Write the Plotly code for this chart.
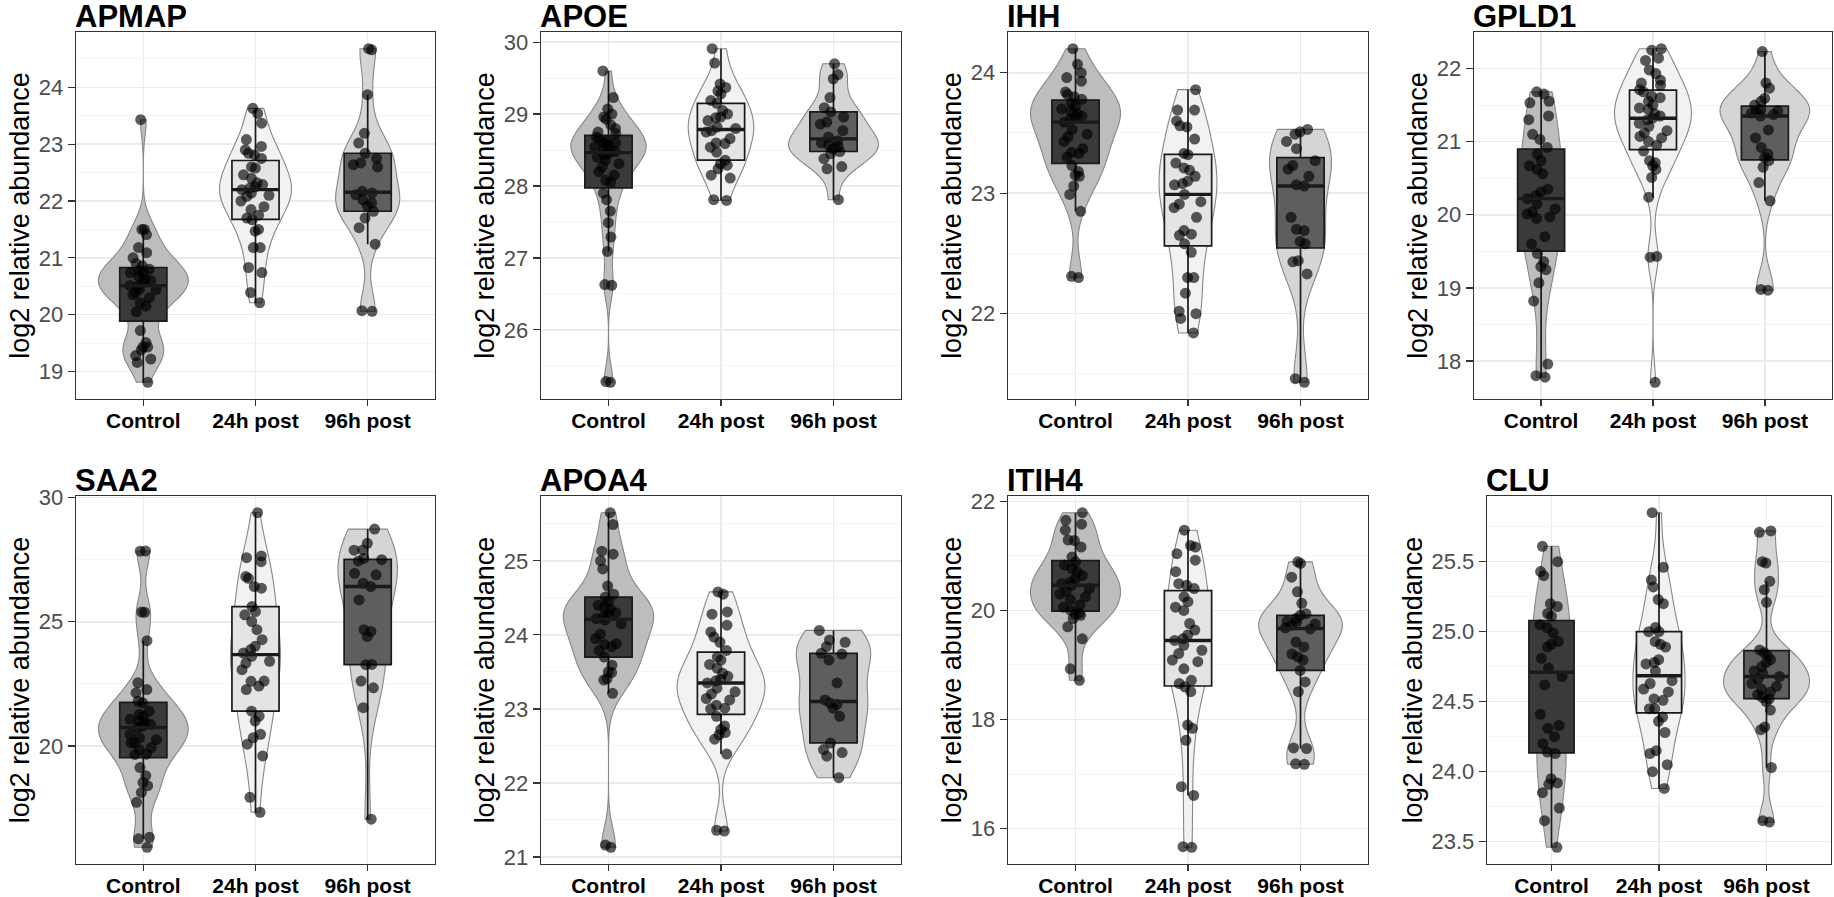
import numpy as np
import plotly.graph_objects as go

# ---------------- data ----------------
groups = ["Control", "24h post", "96h post"]
proteins = ["APMAP", "APOE", "IHH", "GPLD1", "SAA2", "APOA4", "ITIH4", "CLU"]

APMAP_control = [23.43, 21.5, 21.5, 21.41, 21.18, 21.09, 21.0, 20.9, 20.86, 20.8, 20.78, 20.74, 20.74, 20.68, 20.62, 20.6, 20.57, 20.51, 20.51, 20.45, 20.44, 20.39, 20.35, 20.3, 20.21, 20.15, 20.05, 19.72, 19.51, 19.43, 19.43, 19.38, 19.28, 19.22, 19.16, 18.81]
APMAP_24h = [23.63, 23.54, 23.37, 23.08, 22.96, 22.9, 22.84, 22.81, 22.75, 22.6, 22.58, 22.46, 22.4, 22.32, 22.29, 22.25, 22.23, 22.2, 22.14, 22.1, 22.08, 22.0, 21.9, 21.85, 21.75, 21.7, 21.67, 21.5, 21.47, 21.18, 21.18, 20.83, 20.74, 20.39, 20.21]
APMAP_96h = [24.68, 24.66, 23.87, 23.19, 23.02, 22.84, 22.75, 22.67, 22.64, 22.6, 22.17, 22.14, 22.11, 22.02, 21.97, 21.91, 21.82, 21.7, 21.53, 21.24, 20.07, 20.06]

APOE_control = [29.6, 29.23, 29.07, 29.0, 28.96, 28.93, 28.85, 28.8, 28.75, 28.73, 28.68, 28.65, 28.63, 28.6, 28.59, 28.57, 28.54, 28.52, 28.5, 28.48, 28.45, 28.43, 28.4, 28.36, 28.31, 28.27, 28.2, 28.15, 28.08, 28.05, 27.9, 27.81, 27.65, 27.49, 27.29, 27.09, 26.63, 26.62, 25.28, 25.27]
APOE_24h = [29.91, 29.71, 29.42, 29.37, 29.32, 29.28, 29.19, 29.15, 29.05, 29.0, 28.96, 28.95, 28.91, 28.82, 28.8, 28.77, 28.75, 28.66, 28.6, 28.59, 28.54, 28.47, 28.36, 28.31, 28.29, 28.24, 28.15, 28.11, 27.81, 27.8]
APOE_96h = [29.7, 29.55, 29.49, 29.23, 29.09, 29.03, 28.96, 28.89, 28.86, 28.77, 28.68, 28.63, 28.6, 28.57, 28.55, 28.52, 28.48, 28.45, 28.38, 28.27, 28.24, 27.81]

IHH_control = [24.2, 24.07, 24.0, 23.96, 23.93, 23.84, 23.82, 23.8, 23.78, 23.75, 23.72, 23.7, 23.68, 23.66, 23.64, 23.63, 23.62, 23.59, 23.53, 23.49, 23.47, 23.43, 23.37, 23.34, 23.33, 23.3, 23.23, 23.18, 23.15, 23.14, 23.06, 22.99, 22.85, 22.31, 22.3]
IHH_24h = [23.86, 23.69, 23.69, 23.6, 23.56, 23.55, 23.45, 23.33, 23.32, 23.25, 23.21, 23.19, 23.14, 23.1, 23.08, 23.07, 22.99, 22.93, 22.91, 22.88, 22.8, 22.69, 22.66, 22.65, 22.58, 22.51, 22.3, 22.3, 22.17, 22.02, 22.0, 21.96, 21.84]
IHH_96h = [23.53, 23.51, 23.49, 23.43, 23.37, 23.27, 23.23, 23.2, 23.14, 23.07, 23.06, 22.8, 22.7, 22.69, 22.6, 22.58, 22.44, 22.43, 22.33, 21.46, 21.43]

GPLD1_control = [21.68, 21.65, 21.55, 21.53, 21.35, 21.3, 21.1, 21.03, 20.92, 20.83, 20.74, 20.67, 20.62, 20.56, 20.35, 20.31, 20.26, 20.22, 20.15, 20.08, 20.04, 20.01, 19.97, 19.95, 19.7, 19.6, 19.47, 19.36, 19.29, 19.25, 19.07, 18.82, 17.96, 17.8, 17.78]
GPLD1_24h = [22.27, 22.25, 22.14, 22.11, 21.98, 21.93, 21.84, 21.8, 21.77, 21.71, 21.68, 21.62, 21.6, 21.55, 21.5, 21.46, 21.44, 21.38, 21.35, 21.32, 21.3, 21.25, 21.21, 21.15, 21.12, 21.07, 21.05, 21.0, 20.95, 20.87, 20.74, 20.71, 20.67, 20.62, 20.51, 20.24, 19.43, 19.42, 17.71]
GPLD1_96h = [22.23, 21.8, 21.73, 21.59, 21.55, 21.5, 21.44, 21.42, 21.4, 21.39, 21.37, 21.35, 21.16, 21.05, 20.92, 20.83, 20.78, 20.74, 20.65, 20.44, 20.19, 18.98, 18.97]

SAA2_control = [27.85, 27.84, 25.39, 25.38, 24.24, 22.54, 22.27, 22.14, 21.8, 21.74, 21.4, 21.27, 21.2, 21.07, 21.0, 20.95, 20.87, 20.8, 20.74, 20.47, 20.33, 20.25, 20.13, 20.12, 19.93, 19.85, 19.67, 19.66, 19.13, 18.8, 18.53, 18.4, 18.13, 17.73, 16.32, 16.26, 15.92]
SAA2_24h = [29.39, 27.65, 27.58, 27.42, 26.82, 26.75, 26.42, 26.35, 25.61, 25.41, 25.28, 25.01, 24.68, 24.28, 24.01, 23.88, 23.74, 23.61, 23.41, 23.34, 23.07, 22.61, 22.6, 22.41, 22.27, 21.4, 21.2, 21.0, 20.47, 20.33, 20.07, 19.6, 17.93, 17.33]
SAA2_96h = [28.73, 28.16, 27.89, 27.88, 27.55, 27.5, 27.45, 26.95, 26.89, 26.55, 26.42, 25.88, 24.68, 24.61, 24.41, 23.28, 23.27, 22.61, 22.34, 21.54, 17.05]

APOA4_control = [25.65, 25.49, 25.13, 25.09, 25.0, 24.89, 24.66, 24.55, 24.51, 24.45, 24.4, 24.37, 24.35, 24.3, 24.28, 24.25, 24.22, 24.2, 24.15, 24.01, 23.95, 23.88, 23.87, 23.84, 23.79, 23.7, 23.59, 23.5, 23.49, 23.41, 23.39, 23.21, 21.16, 21.13]
APOA4_24h = [24.58, 24.55, 24.31, 24.28, 24.13, 24.04, 23.97, 23.9, 23.79, 23.7, 23.66, 23.6, 23.55, 23.48, 23.44, 23.4, 23.38, 23.35, 23.28, 23.23, 23.2, 23.14, 23.12, 23.05, 23.01, 23.0, 22.9, 22.77, 22.72, 22.68, 22.65, 22.59, 22.39, 21.36, 21.35]
APOA4_96h = [24.06, 23.93, 23.9, 23.84, 23.75, 23.74, 23.66, 23.35, 23.12, 23.08, 23.06, 23.01, 22.9, 22.54, 22.45, 22.41, 22.36, 22.07]

ITIH4_control = [21.79, 21.65, 21.58, 21.47, 21.29, 21.28, 21.16, 20.98, 20.89, 20.83, 20.77, 20.71, 20.64, 20.58, 20.52, 20.49, 20.46, 20.4, 20.35, 20.3, 20.25, 20.2, 20.1, 20.06, 20.0, 19.95, 19.93, 19.91, 19.85, 19.7, 19.48, 18.93, 18.72]
ITIH4_24h = [21.47, 21.19, 21.16, 21.04, 20.92, 20.71, 20.49, 20.46, 20.4, 20.25, 20.16, 20.06, 20.0, 19.76, 19.64, 19.55, 19.48, 19.45, 19.36, 19.27, 19.21, 19.09, 19.06, 18.93, 18.72, 18.66, 18.6, 18.51, 17.9, 17.84, 17.62, 16.77, 16.61, 15.67, 15.66]
ITIH4_96h = [20.89, 20.86, 20.61, 20.34, 20.13, 19.94, 19.91, 19.85, 19.8, 19.79, 19.75, 19.73, 19.68, 19.66, 19.42, 19.33, 19.2, 19.15, 19.09, 18.9, 18.69, 18.51, 17.48, 17.47, 17.19, 17.18]

CLU_control = [25.61, 25.5, 25.43, 25.4, 25.2, 25.18, 25.13, 25.11, 25.05, 25.03, 24.99, 24.93, 24.91, 24.89, 24.81, 24.74, 24.68, 24.62, 24.41, 24.33, 24.31, 24.25, 24.2, 24.14, 24.13, 23.95, 23.92, 23.91, 23.85, 23.74, 23.65, 23.46]
CLU_24h = [25.85, 25.46, 25.37, 25.32, 25.23, 25.2, 25.03, 25.0, 25.0, 24.93, 24.91, 24.89, 24.8, 24.78, 24.77, 24.72, 24.65, 24.63, 24.59, 24.57, 24.52, 24.51, 24.45, 24.45, 24.39, 24.36, 24.28, 24.15, 24.13, 24.05, 24.0, 23.88]
CLU_96h = [25.72, 25.71, 25.5, 25.49, 25.36, 25.3, 25.21, 24.87, 24.85, 24.83, 24.8, 24.78, 24.75, 24.72, 24.7, 24.68, 24.66, 24.63, 24.61, 24.59, 24.57, 24.55, 24.53, 24.52, 24.5, 24.44, 24.32, 24.3, 24.03, 23.65, 23.64]

values = {
    "APMAP": [APMAP_control, APMAP_24h, APMAP_96h],
    "APOE": [APOE_control, APOE_24h, APOE_96h],
    "IHH": [IHH_control, IHH_24h, IHH_96h],
    "GPLD1": [GPLD1_control, GPLD1_24h, GPLD1_96h],
    "SAA2": [SAA2_control, SAA2_24h, SAA2_96h],
    "APOA4": [APOA4_control, APOA4_24h, APOA4_96h],
    "ITIH4": [ITIH4_control, ITIH4_24h, ITIH4_96h],
    "CLU": [CLU_control, CLU_24h, CLU_96h],
}

tick_values = {
    "APMAP": [19, 20, 21, 22, 23, 24],
    "APOE": [26, 27, 28, 29, 30],
    "IHH": [22, 23, 24],
    "GPLD1": [18, 19, 20, 21, 22],
    "SAA2": [20, 25, 30],
    "APOA4": [21, 22, 23, 24, 25],
    "ITIH4": [16, 18, 20, 22],
    "CLU": [23.5, 24.0, 24.5, 25.0, 25.5],
}
tick_labels = {
    "APMAP": ["19", "20", "21", "22", "23", "24"],
    "APOE": ["26", "27", "28", "29", "30"],
    "IHH": ["22", "23", "24"],
    "GPLD1": ["18", "19", "20", "21", "22"],
    "SAA2": ["20", "25", "30"],
    "APOA4": ["21", "22", "23", "24", "25"],
    "ITIH4": ["16", "18", "20", "22"],
    "CLU": ["23.5", "24.0", "24.5", "25.0", "25.5"],
}
y_title = "log2 relative abundance"

# ---------------- styles ----------------
W, H = 1834, 897
panel_px = {  # left, right, top, bottom in pixels
    "APMAP": (76, 435, 32, 399), "APOE": (541, 901, 32, 399),
    "IHH": (1008, 1368, 32, 399), "GPLD1": (1474, 1832, 32, 399),
    "SAA2": (76, 435, 496, 864), "APOA4": (541, 901, 496, 864),
    "ITIH4": (1008, 1368, 496, 864), "CLU": (1487, 1831, 496, 864),
}
violin_fill = ["#bdbdbd", "#f2f2f2", "#d5d5d5"]
box_fill = ["#3a3a3a", "#e4e4e4", "#5e5e5e"]
FONT = "Liberation Sans, Arial, Helvetica, sans-serif"


def nrd0(v):
    v = np.asarray(v, float)
    sd = v.std(ddof=1)
    q75, q25 = np.percentile(v, [75, 25])
    lo = min(sd, (q75 - q25) / 1.34)
    if lo <= 0:
        lo = sd if sd > 0 else 1.0
    return 0.9 * lo * len(v) ** -0.2


def max_density(v, bw):
    v = np.asarray(v, float)
    grid = np.linspace(v.min(), v.max(), 512)
    d = np.exp(-0.5 * ((grid[:, None] - v[None, :]) / bw) ** 2).sum(1)
    return (d / (len(v) * bw * np.sqrt(2 * np.pi))).max()


fig = go.Figure()
layout = dict(
    width=W, height=H, margin=dict(l=0, r=0, t=0, b=0, autoexpand=False),
    paper_bgcolor="white", plot_bgcolor="white", showlegend=False,
    font=dict(family=FONT), annotations=[],
    violinmode="overlay", boxmode="overlay",
)

for k, prot in enumerate(proteins, start=1):
    xs, ys = f"x{k}", f"y{k}"
    grp_vals = values[prot]
    bws = [nrd0(v) for v in grp_vals]
    md = [max_density(v, b) for v, b in zip(grp_vals, bws)]
    for gi, (g, v) in enumerate(zip(groups, grp_vals)):
        fig.add_trace(go.Violin(
            x=[g] * len(v), y=v, xaxis=xs, yaxis=ys, name=g,
            spanmode="hard", bandwidth=bws[gi], scalemode="width",
            width=0.8 * md[gi] / max(md), points=False,
            box_visible=False, meanline_visible=False,
            fillcolor=violin_fill[gi], opacity=1,
            line=dict(color="#878787", width=1.1), hoverinfo="skip",
        ))
    for gi, (g, v) in enumerate(zip(groups, grp_vals)):
        fig.add_trace(go.Box(
            x=[g] * len(v), y=v, xaxis=xs, yaxis=ys, name=g,
            boxpoints="all", jitter=0.7, pointpos=0, width=0.42,
            fillcolor=box_fill[gi], whiskerwidth=0,
            line=dict(color="#1a1a1a", width=1.7),
            marker=dict(color="rgba(0,0,0,0.64)", size=11, line=dict(width=0)),
            hoverinfo="skip",
        ))
        m = float(np.median(v))
        # thicker median bar (as in ggplot's boxplot)
        fig.add_trace(go.Box(
            x=[g], q1=[m], median=[m], q3=[m], lowerfence=[m], upperfence=[m],
            xaxis=xs, yaxis=ys, name=g, boxpoints=False, width=0.42,
            fillcolor="rgba(0,0,0,0)", whiskerwidth=0,
            line=dict(color="#1a1a1a", width=3.4), hoverinfo="skip",
        ))

    allv = np.concatenate([np.asarray(v, float) for v in grp_vals])
    lo, hi = allv.min(), allv.max()
    pad = 0.05 * (hi - lo)
    L, R, T, B = panel_px[prot]
    tv = tick_values[prot]
    step = tv[1] - tv[0]
    minor_vals = [t + step / 2 for t in [tv[0] - step] + tv]
    sfx = "" if k == 1 else str(k)
    layout["xaxis" + sfx] = dict(
        domain=[L / W, R / W], anchor=ys, type="category", automargin=False,
        categoryorder="array", categoryarray=groups, range=[-0.6, 2.6],
        showgrid=True, gridcolor="#ebebeb", gridwidth=1.5, zeroline=False,
        showline=True, mirror=True, linecolor="#333333", linewidth=1.3,
        ticks="outside", ticklen=6, tickwidth=1.3, tickcolor="#333333",
        ticklabelstandoff=-4,
        tickfont=dict(size=21, color="black", family=FONT, weight="bold"),
    )
    layout["yaxis" + sfx] = dict(
        domain=[1 - B / H, 1 - T / H], anchor=xs, automargin=False,
        range=[lo - pad, hi + pad], tickmode="array",
        tickvals=tv, ticktext=tick_labels[prot],
        showgrid=True, gridcolor="#ebebeb", gridwidth=1.5, zeroline=False,
        minor=dict(tickmode="array", tickvals=minor_vals, showgrid=True,
                   gridcolor="#f3f3f3", gridwidth=0.8, ticks=""),
        showline=True, mirror=True, linecolor="#333333", linewidth=1.3,
        ticks="outside", ticklen=7, tickwidth=1.3, tickcolor="#333333",
        tickfont=dict(size=22, color="#4d4d4d", family=FONT),
        title=dict(text=y_title, font=dict(size=27, color="black", family=FONT),
                   standoff=1),
    )
    layout["annotations"].append(dict(
        text=f"<b>{prot}</b>", xref="paper", yref="paper",
        x=L / W, y=1 - T / H, xanchor="left", yanchor="bottom",
        showarrow=False, xshift=-3, yshift=-4,
        font=dict(size=31, color="black", family=FONT),
    ))

fig.update_layout(**layout)
fig.write_html(
    "out.html",
    config={"displayModeBar": False, "staticPlot": True},
    post_script="document.body.style.margin='0px';document.body.style.overflow='hidden';",
)
